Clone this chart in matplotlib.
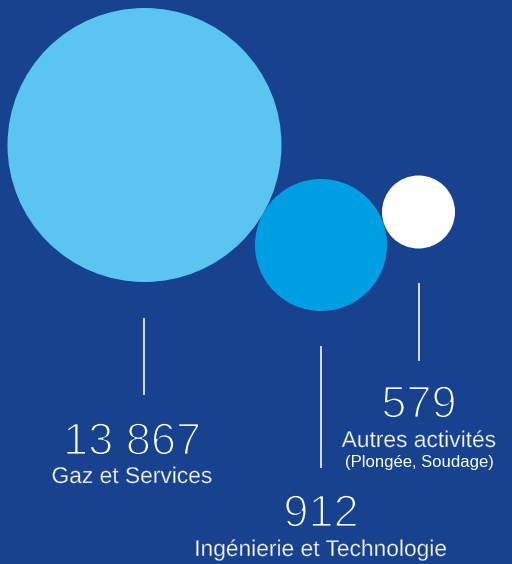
import matplotlib.pyplot as plt
import matplotlib.patheffects as pe
from matplotlib.patches import Circle

# données
labels = ["Gaz et Services", "Ingénierie et Technologie", "Autres activités"]
sublabels = ["", "", "(Plongée, Soudage)"]
values = [13867, 912, 579]

# mise en page (pixels)
centers = [(144.5, 145), (321, 245), (418.5, 212)]
radii = [137, 66, 36.5]
colors = ["#5BC5F2", "#009FE3", "#FFFFFF"]
line_x = [144, 321, 419]
line_y = [(319, 394), (347, 467), (284, 360)]
num_y = [454, 526, 417]
lab_y = [483, 556, 447]
num_x = [132, 321, 419]
lab_x = [132, 321, 419]

BG = "#16428F"
W, H = 512, 564

plt.rcParams['font.family'] = ['Liberation Sans', 'DejaVu Sans']

# amincir le texte: contour couleur du fond par-dessus
thin_num = [pe.Normal(), pe.Stroke(linewidth=1.3, foreground=BG)]
thin_lab = [pe.Normal(), pe.Stroke(linewidth=0.3, foreground=BG)]

fig = plt.figure(figsize=(W / 100, H / 100), dpi=100)
fig.patch.set_facecolor(BG)
ax = fig.add_axes([0, 0, 1, 1])
ax.set_facecolor(BG)
ax.set_xlim(0, W)
ax.set_ylim(H, 0)
ax.set_aspect('equal')
ax.axis('off')

for (cx, cy), r, c in zip(centers, radii, colors):
    ax.add_patch(Circle((cx, cy), r, color=c, lw=0))

for i, v in enumerate(values):
    x = line_x[i]
    ax.plot([x, x], line_y[i], color="white", lw=1.3, alpha=0.9)
    txt = f"{v:,}".replace(",", " ")
    ax.text(num_x[i], num_y[i] + 0.5, txt, color="white", fontsize=32.5,
            ha='center', va='baseline', path_effects=thin_num)
    ax.text(lab_x[i], lab_y[i], labels[i], color="white", fontsize=16.4,
            ha='center', va='baseline', path_effects=thin_lab)
    if sublabels[i]:
        ax.text(lab_x[i], lab_y[i] + 20, sublabels[i], color="white",
                fontsize=12, ha='center', va='baseline')

fig.savefig("out.png", dpi=100, facecolor=BG)
